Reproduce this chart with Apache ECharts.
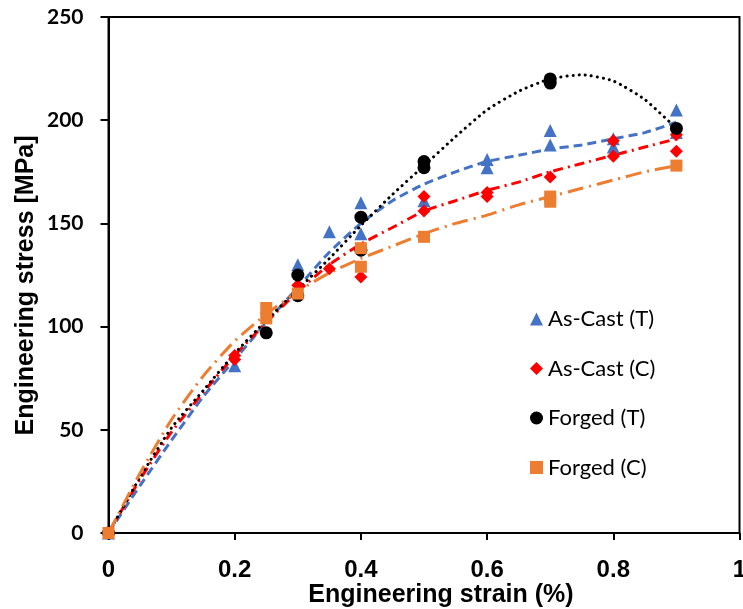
<!DOCTYPE html>
<html><head><meta charset="utf-8">
<script src="https://cdn.jsdelivr.net/npm/echarts@6/dist/echarts.min.js"></script>
<style>html,body{margin:0;padding:0;background:#fff}#c{width:743px;height:609px}</style>
</head><body><div id="c"></div>
<script>
// Measured points [strain, stress]
const asCastT = [[0,0],[0.2,81],[0.3,130],[0.3,127],[0.35,146],[0.4,160],[0.4,145],[0.5,161],[0.6,181],[0.6,177],[0.7,195],[0.7,188],[0.8,191],[0.8,187],[0.9,205],[0.9,194]];
const asCastC = [[0,0],[0.2,86],[0.2,84],[0.3,120],[0.35,128],[0.4,124],[0.5,163],[0.5,156],[0.6,165],[0.6,163],[0.7,172.5],[0.8,190],[0.8,182.5],[0.9,193],[0.9,185]];
const forgedT = [[0,0],[0.25,97],[0.3,125],[0.3,115],[0.4,153],[0.4,137],[0.5,180],[0.5,177],[0.7,220],[0.7,218],[0.9,196]];
const forgedC = [[0,0],[0.25,109],[0.25,104],[0.3,116],[0.4,138],[0.4,129],[0.5,143.5],[0.7,163],[0.7,160.5],[0.9,178]];
// Trend line values
const trendX = [0,0.05,0.1,0.15,0.2,0.25,0.3,0.35,0.4,0.45,0.5,0.55,0.6,0.65,0.7,0.75,0.8,0.85,0.9];
const trendAsCastT = [0,23,45,66,84,102,119,136,150,161,169,175,180,183,186,188,191,194,199];
const trendAsCastC = [0,26,49,68,86,102,117,130,140,148,156,161,166,170,175,179,183,187,191];
const trendForgedT = [0,27,51,69,87,103,118,133,149,164,178,192,205,214,220,222,219,210,196];
const trendForgedC = [0,29,55,76,93,106,117,126,133,139,145,150,154,159,163,167,171,175,178];
const xTicks = [0,0.2,0.4,0.6,0.8,1];
const yTicks = [0,50,100,150,200,250];

const pair = ys => trendX.map((x,i)=>[x,ys[i]]);
const chart = echarts.init(document.getElementById('c'));
const C = {blue:'#4472C4', red:'#FF0000', black:'#000000', orange:'#ED7D31'};
function trend(name, ys, color, type, cap){
  return {name:name, type:'line', data:pair(ys), smooth:0.2, symbol:'none', silent:true,
    lineStyle:{color:color, width:3, type:type, cap:cap||'butt'}, z:1};
}
function pts(name, data, color, symbol, size){
  return {name:name, type:'scatter', data:data, symbol:symbol, symbolSize:size,
    itemStyle:{color:color, opacity:1}, z:3};
}
chart.setOption({
  animation:false,
  grid:{left:108.5, right:3.5, top:17, bottom:76, show:true, borderColor:'#000', borderWidth:2,
    containLabel:false, outerBoundsMode:'none'},
  legend:{
    data:['As-Cast (T)','As-Cast (C)','Forged (T)','Forged (C)'],
    orient:'vertical', left:525, top:303, itemGap:27.5, itemWidth:13, itemHeight:13,
    textStyle:{fontFamily:'Lato', fontSize:22, color:'#000'}
  },
  xAxis:{type:'value', min:0, max:1, interval:0.2,
    name:'Engineering strain (%)', nameLocation:'middle', nameGap:50, nameMoveOverlap:false,
    nameTextStyle:{fontFamily:'Liberation Sans', fontWeight:'bold', fontSize:25, color:'#000', padding:[0,0,0,34]},
    axisLine:{show:true, lineStyle:{color:'#000', width:2}},
    axisTick:{show:true, length:7, lineStyle:{color:'#000', width:2}},
    axisLabel:{fontFamily:'Liberation Sans', fontWeight:'bold', fontSize:24, color:'#000', margin:25,
      formatter:v=>String(v)},
    splitLine:{show:false}},
  yAxis:{type:'value', min:0, max:250, interval:50,
    name:'Engineering stress [MPa]', nameLocation:'middle', nameGap:70, nameMoveOverlap:false,
    nameTextStyle:{fontFamily:'Liberation Sans', fontWeight:'bold', fontSize:25, color:'#000', padding:[0,21,0,0]},
    axisLine:{show:true, lineStyle:{color:'#000', width:2}},
    axisTick:{show:true, length:8, lineStyle:{color:'#000', width:2}},
    axisLabel:{fontFamily:'Lato', fontWeight:'bold', fontSize:21, color:'#000', margin:25},
    splitLine:{show:false}},
  series:[
    trend('tAsCastT', trendAsCastT, C.blue, [9,5]),
    trend('tAsCastC', trendAsCastC, C.red, [10,5,2,5]),
    trend('tForgedT', trendForgedT, C.black, [0.1,6], 'round'),
    trend('tForgedC', trendForgedC, C.orange, [16,6,2,6]),
    pts('As-Cast (T)', asCastT, C.blue, 'triangle', 13),
    pts('As-Cast (C)', asCastC, C.red, 'diamond', 13),
    pts('Forged (T)', forgedT, C.black, 'circle', 13),
    pts('Forged (C)', forgedC, C.orange, 'rect', 12)
  ]
});
</script></body></html>
